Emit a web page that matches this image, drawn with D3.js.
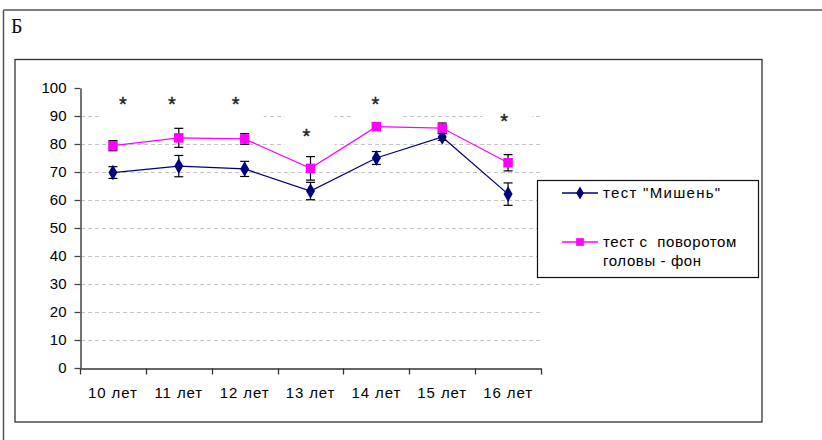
<!DOCTYPE html>
<html>
<head>
<meta charset="utf-8">
<script src="https://cdn.jsdelivr.net/npm/d3@7"></script>
<style>
  html, body { margin: 0; padding: 0; background: #fff; }
  svg { display: block; }
  text { font-family: Arial, "Liberation Sans", sans-serif; }
</style>
</head>
<body>
<svg id="chart" width="822" height="440"></svg>
<script>
// Age groups
const categories = ["10 лет", "11 лет", "12 лет", "13 лет", "14 лет", "15 лет", "16 лет"];

// Series means
const targetMeans = [69.8, 72.1, 71.1, 63.2, 75.0, 82.5, 62.1];
const turnMeans   = [79.4, 82.2, 81.8, 71.3, 86.2, 85.7, 73.3];

// Error bar half-widths
const targetErr = [2.1, 3.8, 2.7, 3.1, 2.3, 1.2, 4.0];
const turnErr   = [1.8, 3.4, 1.9, 4.2, 1.0, 1.8, 2.9];

// Significance marks: category and height on the value axis
const starCats   = ["10 лет", "11 лет", "12 лет", "13 лет", "14 лет", "16 лет"];
const starValues = [95.7, 95.7, 95.7, 84.3, 95.7, 89.6];
const starShift  = [10, -7, -9, -4, -1, -4];

const yTicks = [0, 10, 20, 30, 40, 50, 60, 70, 80, 90, 100];

const seriesNames = ['тест "Мишень"', ["тест с  поворотом", "головы - фон"]];

const svg = d3.select("#chart");

// Page frame
svg.append("line").attr("x1", 3.5).attr("x2", 822).attr("y1", 10).attr("y2", 10)
  .attr("stroke", "#555").attr("stroke-width", 1.5);
svg.append("line").attr("x1", 3.5).attr("x2", 3.5).attr("y1", 10).attr("y2", 440)
  .attr("stroke", "#555").attr("stroke-width", 1.5);

svg.append("text").attr("x", 11).attr("y", 33)
  .style("font-family", '"Liberation Serif", "DejaVu Serif", serif')
  .style("font-size", "20px").attr("fill", "#111").text("Б");

// Chart box
svg.append("rect").attr("x", 15).attr("y", 59.5).attr("width", 747).attr("height", 362.5)
  .attr("fill", "#fff").attr("stroke", "#333").attr("stroke-width", 1.3);

const x = d3.scaleBand().domain(categories).range([80, 541]);
const y = d3.scaleLinear().domain([0, 100]).range([368, 88]);
const cx = c => x(c) + x.bandwidth() / 2;

// Gridlines
svg.append("g").selectAll("line")
  .data(yTicks.filter(t => t > 0 && t < 100))
  .join("line")
  .attr("x1", 81).attr("x2", 541)
  .attr("y1", d => Math.round(y(d)) + 0.5).attr("y2", d => Math.round(y(d)) + 0.5)
  .attr("stroke", "#c4c4c4").attr("stroke-width", 1)
  .attr("stroke-dasharray", "4,3");

// White label boxes behind the significance marks
const stars = starCats.map((c, i) => ({ x: cx(c) + starShift[i], y: y(starValues[i]) }));
const groups = [stars.slice(0, 3), ...stars.slice(3).map(s => [s])];
svg.append("g").selectAll("rect").data(groups).join("rect")
  .attr("x", g => d3.min(g, s => s.x) - 22)
  .attr("width", g => d3.max(g, s => s.x) - d3.min(g, s => s.x) + 50)
  .attr("y", g => g[0].y - 18).attr("height", 36)
  .attr("fill", "#fff");

svg.append("g").selectAll("text").data(stars).join("text")
  .attr("x", d => d.x).attr("y", d => d.y + 11)
  .attr("text-anchor", "middle")
  .style("font-size", "20px").attr("fill", "#222")
  .attr("stroke", "#222").attr("stroke-width", 0.4)
  .text("*");

// Axes
const yAxis = d3.axisLeft(y).tickValues(yTicks).tickSize(6).tickPadding(8).tickSizeOuter(0);
const gy = svg.append("g").attr("transform", "translate(80.5,0)").call(yAxis);
gy.select(".domain").attr("stroke", "#444").attr("stroke-width", 1.5);
gy.selectAll(".tick line").attr("stroke", "#444").attr("stroke-width", 1.3);
gy.selectAll(".tick text").style("font-size", "15px").attr("fill", "#000")
  .style("font-family", 'Arial, "Liberation Sans", sans-serif');

const xAxis = d3.axisBottom(x).tickSize(0).tickPadding(19);
const gx = svg.append("g").attr("transform", "translate(0,368.5)").call(xAxis);
gx.select(".domain").attr("stroke", "#333").attr("stroke-width", 1.5);
gx.selectAll(".tick text").style("font-size", "15px").attr("fill", "#000")
  .style("letter-spacing", "0.9px")
  .style("font-family", 'Arial, "Liberation Sans", sans-serif');
// Tick marks between categories
const bounds = categories.map(c => x(c)).concat([x.range()[1]]);
gx.append("g").selectAll("line").data(bounds).join("line")
  .attr("x1", d => Math.round(d) + 0.5).attr("x2", d => Math.round(d) + 0.5)
  .attr("y1", 0).attr("y2", 6)
  .attr("stroke", "#333").attr("stroke-width", 1.3);

// Series
const series = [
  { means: targetMeans, err: targetErr, color: "#000080", shape: d3.symbolDiamond },
  { means: turnMeans, err: turnErr, color: "#ff00ff", shape: d3.symbolSquare }
];

const line = d3.line().x(d => cx(d.c)).y(d => y(d.v));

series.forEach(s => {
  const pts = categories.map((c, i) => ({ c, v: s.means[i], e: s.err[i] }));
  svg.append("path").datum(pts).attr("d", line)
    .attr("fill", "none").attr("stroke", s.color).attr("stroke-width", 1.3);
});

series.forEach(s => {
  const pts = categories.map((c, i) => ({ c, v: s.means[i], e: s.err[i] }));
  const g = svg.append("g").attr("stroke", "#000").attr("stroke-width", 1.2);
  g.selectAll(".stem").data(pts).join("line")
    .attr("x1", d => cx(d.c)).attr("x2", d => cx(d.c))
    .attr("y1", d => y(d.v + d.e)).attr("y2", d => y(d.v - d.e));
  g.selectAll(".capT").data(pts).join("line")
    .attr("x1", d => cx(d.c) - 4.5).attr("x2", d => cx(d.c) + 4.5)
    .attr("y1", d => y(d.v + d.e)).attr("y2", d => y(d.v + d.e));
  g.selectAll(".capB").data(pts).join("line")
    .attr("x1", d => cx(d.c) - 4.5).attr("x2", d => cx(d.c) + 4.5)
    .attr("y1", d => y(d.v - d.e)).attr("y2", d => y(d.v - d.e));
});

series.forEach(s => {
  const sym = d3.symbol().type(s.shape).size(s.shape === d3.symbolSquare ? 90 : 70);
  svg.append("g").selectAll("path")
    .data(categories.map((c, i) => ({ c, v: s.means[i] })))
    .join("path")
    .attr("transform", d => `translate(${cx(d.c)},${y(d.v)})`)
    .attr("d", sym()).attr("fill", s.color);
});

// Legend
const lg = svg.append("g");
lg.append("rect").attr("x", 537.5).attr("y", 180.5).attr("width", 221).attr("height", 97)
  .attr("fill", "#fff").attr("stroke", "#111").attr("stroke-width", 1.2);
const legendRows = [193, 242];
series.forEach((s, i) => {
  const yy = legendRows[i];
  lg.append("line").attr("x1", 562).attr("x2", 598).attr("y1", yy).attr("y2", yy)
    .attr("stroke", s.color).attr("stroke-width", 1.3);
  const sym = d3.symbol().type(s.shape).size(s.shape === d3.symbolSquare ? 60 : 50);
  lg.append("path").attr("transform", `translate(580,${yy})`).attr("d", sym()).attr("fill", s.color);
  const names = [].concat(seriesNames[i]);
  names.forEach((n, j) => {
    lg.append("text").attr("x", 603).attr("y", yy + 5 + j * 19)
      .style("font-size", "15px").attr("fill", "#000")
      .style("letter-spacing", i === 0 ? "1.3px" : "0.6px")
      .style("white-space", "pre").attr("xml:space", "preserve").text(n);
  });
});
</script>
</body>
</html>
